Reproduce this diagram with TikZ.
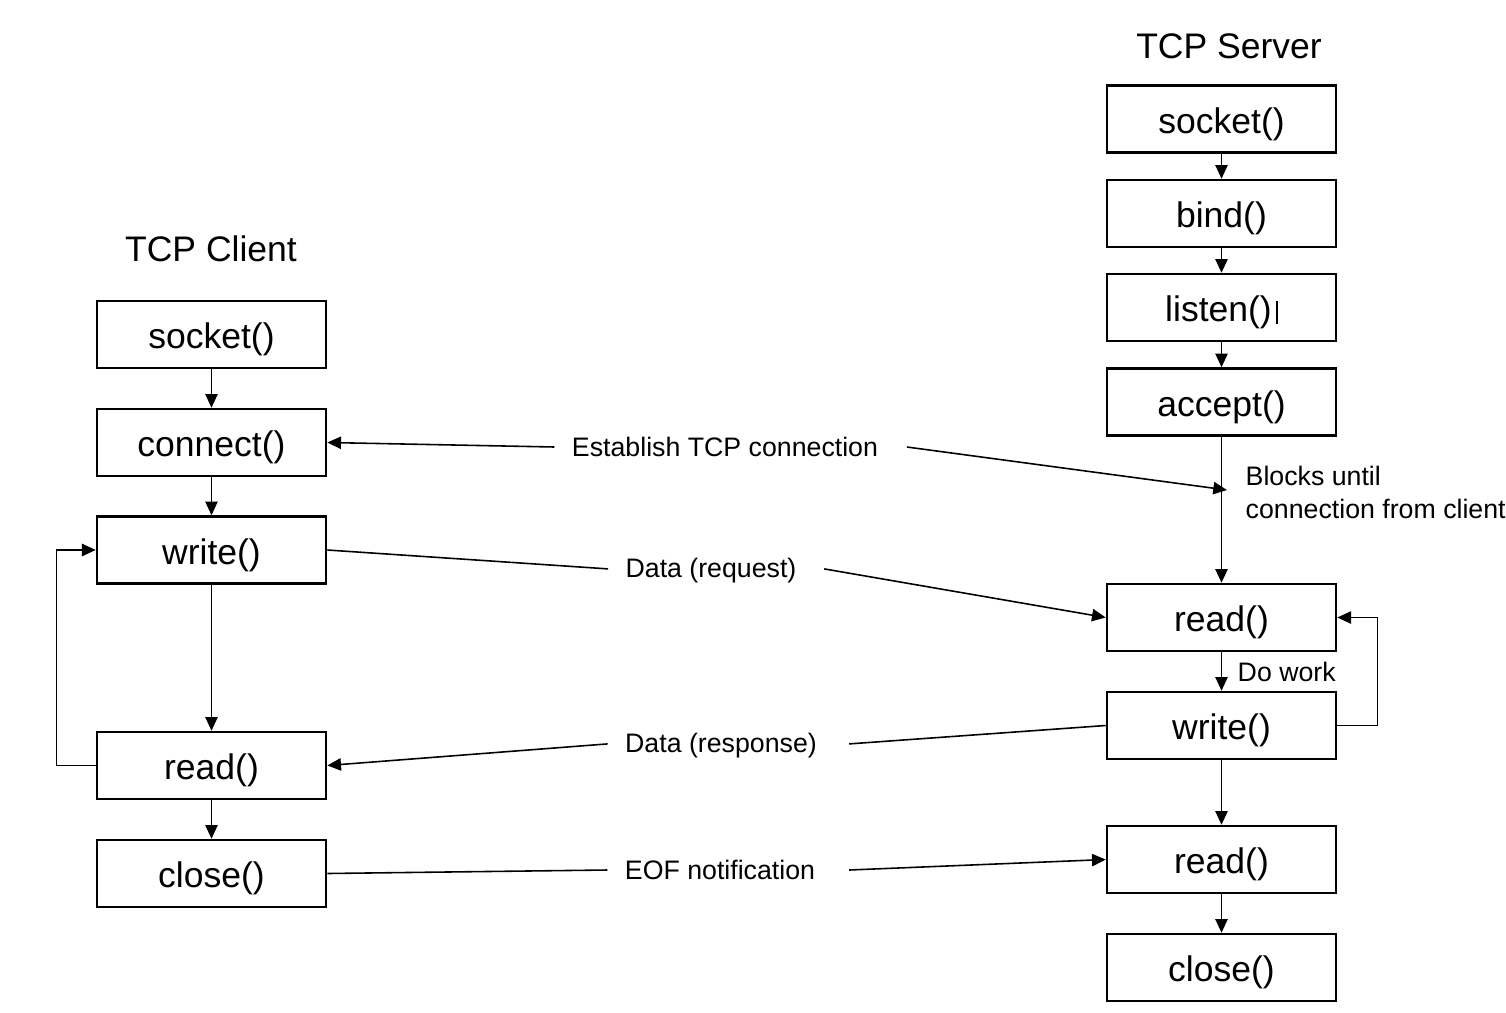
\documentclass[tikz,border=0pt]{standalone}
\usepackage{fontspec}
\setmainfont{Liberation Sans}
\usetikzlibrary{arrows.meta}
\begin{document}
\begin{tikzpicture}[x=0.01cm,y=-0.01cm,
  fnbox/.style={draw,line width=0.7pt,minimum width=2.29cm,minimum height=0.67cm,inner sep=0pt,text height=9.2pt,text depth=1pt,font=\fontsize{10.1}{12}\selectfont},
  ttl/.style={font=\fontsize{10.1}{12}\selectfont,inner sep=0pt},
  lbl/.style={font=\fontsize{7.6}{9.4}\selectfont,inner sep=0pt},
  conn/.style={line width=0.45pt},
  arr/.style={conn,-{Triangle[length=3.9pt,width=3.5pt]}}]
\useasboundingbox (0,0) rectangle (1506,1012);
% titles
\node[ttl] (tclient) at (211,249) {TCP Client};
\node[ttl] (tserver) at (1229,46) {TCP Server};
% client boxes
\node[fnbox] (csocket) at (211.5,334.5) {socket()};
\node[fnbox] (cconnect) at (211.5,442.5) {connect()};
\node[fnbox] (cwrite) at (211.5,550) {write()};
\node[fnbox] (cread) at (211.5,765.5) {read()};
\node[fnbox] (cclose) at (211.5,873.5) {close()};
% server boxes
\node[fnbox] (ssocket) at (1221.5,119) {socket()};
\node[fnbox] (sbind) at (1221.5,213.5) {bind()};
\node[fnbox] (slisten) at (1221.5,307.5) {listen()\hspace{1.2pt}\rule[-0.6pt]{0.5pt}{6.6pt}};
\node[fnbox] (saccept) at (1221.5,402) {accept()};
\node[fnbox] (sread) at (1221.5,617.5) {read()};
\node[fnbox] (swrite) at (1221.5,725.5) {write()};
\node[fnbox] (sread2) at (1221.5,859.5) {read()};
\node[fnbox] (sclose) at (1221.5,967.5) {close()};
% labels
\node[lbl] (lest) at (725,447) {Establish TCP connection};
\node[lbl] (lreq) at (711,571) {Data (request)};
\node[lbl] (lresp) at (721,746) {Data (response)};
\node[lbl] (leof) at (720,870) {EOF notification};
\node[lbl,anchor=west,align=left] (lblock) at (1245,492.5) {Blocks until\\connection from client};
\node[lbl,anchor=west] (lwork) at (1237,672) {Do work};
% client vertical arrows
\draw[arr] (csocket) -- (cconnect);
\draw[arr] (cconnect) -- (cwrite);
\draw[arr] (cwrite) -- (cread);
\draw[arr] (cread) -- (cclose);
\draw[arr] (cread.west) -- ++(-39,0) |- (cwrite.west);
% server vertical arrows
\draw[arr] (ssocket) -- (sbind);
\draw[arr] (sbind) -- (slisten);
\draw[arr] (slisten) -- (saccept);
\draw[arr] (saccept) -- (sread);
\draw[arr] (sread) -- (swrite);
\draw[arr] (swrite) -- (sread2);
\draw[arr] (sread2) -- (sclose);
\draw[arr] (swrite.east) -- ++(40,0) |- (sread.east);
% messages
\coordinate (blk) at (1227,490);
\draw[arr] ([xshift=-4.8pt]lest.west) -- (cconnect.east);
\draw[arr] ([xshift=8pt]lest.east) -- (blk);
\draw[conn] (cwrite.east) -- ([xshift=-4.8pt,yshift=0.6pt]lreq.west);
\draw[arr] ([xshift=7.7pt,yshift=0.6pt]lreq.east) -- (sread.west);
\draw[conn] (swrite.west) -- ([xshift=9pt,yshift=0.6pt]lresp.east);
\draw[arr] ([xshift=-4.8pt,yshift=0.6pt]lresp.west) -- (cread.east);
\draw[conn] (cclose.east) -- ([xshift=-4.8pt]leof.west);
\draw[arr] ([xshift=9.5pt]leof.east) -- (sread2.west);
\end{tikzpicture}
\end{document}
